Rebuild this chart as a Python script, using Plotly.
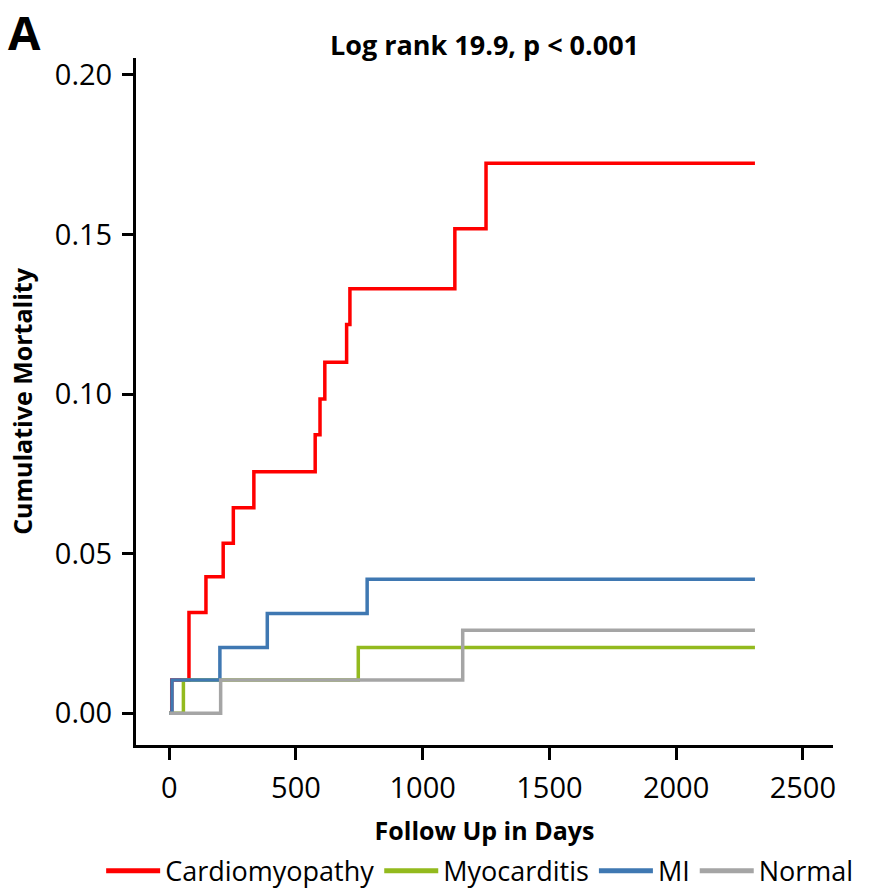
import plotly.graph_objects as go

# ---- data ----
series_names = ["Cardiomyopathy", "Myocarditis", "MI", "Normal"]
series_colors = ["#FF0000", "#93BA1E", "#3F78B2", "#A5A5A5"]

cardio_days = [0, 10, 78, 145, 213, 253, 334, 576, 595, 614, 700, 713, 1127, 1250, 2311]
cardio_mort = [0.0, 0.0104, 0.0316, 0.0428, 0.0533, 0.0644, 0.0757, 0.0873, 0.0985,
               0.110, 0.1218, 0.133, 0.1518, 0.1723, 0.1723]

myo_days = [0, 56, 746, 2311]
myo_mort = [0.0, 0.0104, 0.0206, 0.0206]

mi_days = [0, 11, 200, 387, 781, 2311]
mi_mort = [0.0, 0.0104, 0.0206, 0.0313, 0.042, 0.042]

normal_days = [0, 203, 1158, 2311]
normal_mort = [0.0, 0.0104, 0.026, 0.026]

x_ticks = [0, 500, 1000, 1500, 2000, 2500]
y_ticks = [0.00, 0.05, 0.10, 0.15, 0.20]
y_tick_labels = ["0.00", "0.05", "0.10", "0.15", "0.20"]

title_text = "Log rank 19.9, p < 0.001"
x_title = "Follow Up in Days"
y_title = "Cumulative Mortality"
panel_label = "A"

FONT = "Open Sans, Noto Sans, DejaVu Sans, sans-serif"

fig = go.Figure()
all_series = [(cardio_days, cardio_mort), (myo_days, myo_mort),
              (mi_days, mi_mort), (normal_days, normal_mort)]
for (xs, ys), name, color in zip(all_series, series_names, series_colors):
    fig.add_trace(go.Scatter(
        x=xs, y=ys, mode="lines", name=name,
        line=dict(color=color, width=3.5, shape="hv"),
    ))

fig.update_layout(
    width=896, height=891,
    margin=dict(l=136, r=63, t=58, b=146, autoexpand=False),
    paper_bgcolor="white", plot_bgcolor="white",
    font=dict(family=FONT, color="black"),
    showlegend=True,
    legend=dict(
        orientation="h", x=-0.05, xanchor="left", y=-0.148, yanchor="top",
        font=dict(size=27, family=FONT, color="black"),
        itemwidth=54, tracegroupgap=0, itemsizing="constant",
        bgcolor="rgba(0,0,0,0)",
    ),
    annotations=[
        dict(text="<b>" + title_text + "</b>", xref="paper", yref="paper",
             x=0.5, y=1.0, yshift=14, xanchor="center", yanchor="middle",
             showarrow=False, font=dict(size=27, family=FONT, color="black")),
        dict(text="<b>" + panel_label + "</b>", xref="paper", yref="paper",
             x=0, xshift=-130, y=1.0, yshift=26, xanchor="left", yanchor="middle",
             showarrow=False, font=dict(size=47, family=FONT, color="black")),
    ],
)

fig.update_xaxes(
    range=[-131, 2619], tickvals=x_ticks, ticktext=[str(v) for v in x_ticks],
    showgrid=False, zeroline=False, showline=True, linecolor="black", linewidth=3,
    ticks="outside", ticklen=12, tickwidth=3, tickcolor="black",
    ticklabelstandoff=3,
    tickfont=dict(size=29, family=FONT, color="black"),
    title=dict(text="<b>" + x_title + "</b>", font=dict(size=25, family=FONT, color="black"),
               standoff=18),
)
fig.update_yaxes(
    range=[-0.00993, 0.2053], tickvals=y_ticks, ticktext=y_tick_labels,
    showgrid=False, zeroline=False, showline=True, linecolor="black", linewidth=3,
    ticks="outside", ticklen=11, tickwidth=3, tickcolor="black",
    ticklabelstandoff=4,
    tickfont=dict(size=29, family=FONT, color="black"),
    title=dict(text="<b>" + y_title + "</b>", font=dict(size=25, family=FONT, color="black"),
               standoff=16),
)

fig.write_html("out.html", config={"displayModeBar": False},
               post_script="document.body.style.margin='0';")
